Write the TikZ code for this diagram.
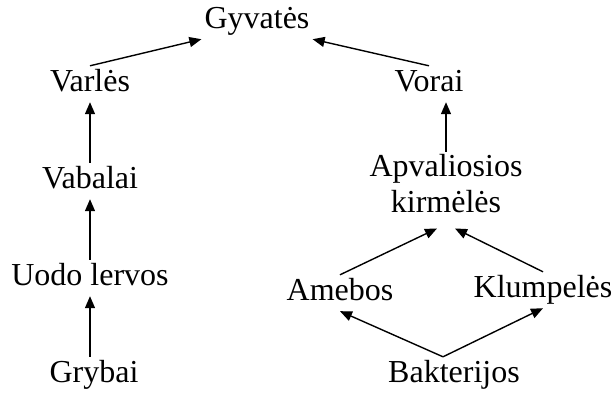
\documentclass[tikz,border=0pt]{standalone}
\usepackage{fontspec}
\setmainfont{Liberation Serif}
\usepackage {tikz}
\usetikzlibrary{calc}
\usetikzlibrary{arrows.meta}
\tikzset{
    species/.style = {font=\fontsize{32}{36}\selectfont, text height=22pt, text depth=8pt, inner sep=3pt, anchor=base},
    twoline/.style = {font=\fontsize{32}{36}\selectfont, align=center, inner sep=3pt},
    eats/.style = {-{Triangle[length=12pt,width=10pt]}, line width=1.4pt}}

\begin{document}
\begin{tikzpicture}[x=1pt,y=-1pt]
        \useasboundingbox (0,0) rectangle (614,392);
        \path (257,28) node[species] (G) {Gyvatės}
        (90,91) node[species] (V) {Varlės}
        (429,91) node[species] (Vo) {Vorai}
        (90,188) node[species] (Vb) {Vabalai}
        (90,285) node[species] (U) {Uodo lervos}
        (94,382) node[species] (Gr) {Grybai}
        (340,300) node[species] (Am) {Amebos}
        (543,297) node[species] (K) {Klumpelės}
        (454,382) node[species] (B) {Bakterijos};
        \node[twoline] (A) at (446,184) {Apvaliosios\\kirmėlės};
        \coordinate (Bt) at ($(B.north) + (-11,0)$);
        \draw[eats] (V.north) -- (G.south west);
        \draw[eats] (Vo.north) -- (G.south east);
        \draw[eats] (Vb) -- (V);
        \draw[eats] (U) -- (Vb);
        \draw[eats] (Gr.north -| U) -- (U.south);
        \draw[eats] (A.north) -- (A.north |- Vo.south);
        \draw[eats] (Am.north) -- ($(A.south) + (-9,12)$);
        \draw[eats] (K.north) -- ($(A.south) + (9,12)$);
        \draw[eats] (Bt) -- (Am.south);
        \draw[eats] (Bt) -- (K.south);
    \end{tikzpicture}
\end{document}
